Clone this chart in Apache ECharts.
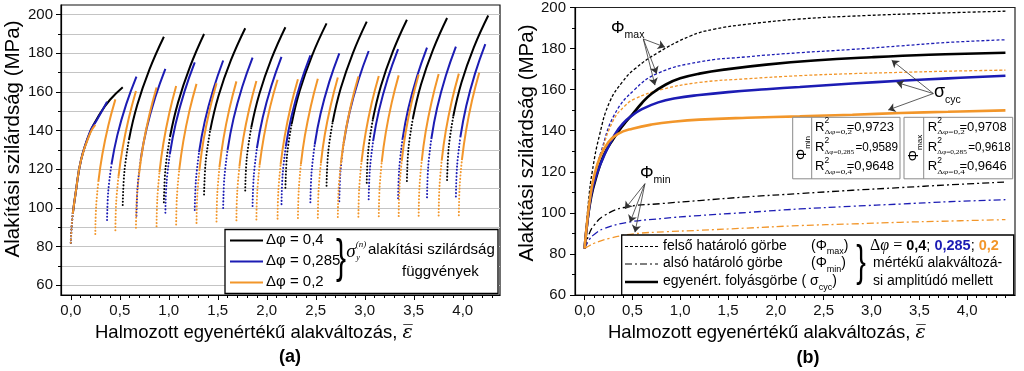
<!DOCTYPE html>
<html>
<head>
<meta charset="utf-8">
<script src="https://cdn.jsdelivr.net/npm/echarts@6.0.0/dist/echarts.min.js"></script>
<style>html,body{margin:0;padding:0;background:#fff;}#chart{width:1024px;height:371px;}</style>
</head>
<body>
<div id="chart"></div>
<script>
// ================= tick labels =================
const xTickValues = [0, 0.5, 1, 1.5, 2, 2.5, 3, 3.5, 4];
const yTickValues = [60, 80, 100, 120, 140, 160, 180, 200];
const yMinorValues = [70, 90, 110, 130, 150, 170, 190];

// ================= panel (a): flow stress curves per half cycle =================
// each curve: [strain, stress] points; the first three points are the sparse (dotted) elastic part
const curvesA_04 = [
  [[0,82],[0.008,90],[0.02,97],[0.05,108],[0.105,125],[0.2,139.5],[0.3,149],[0.4,156],[0.53,162.5]],
  [[0.53,101.5],[0.547,118.9],[0.593,135.2],[0.677,153.1],[0.803,171.7],[0.95,188.6]],
  [[0.95,103],[0.966,120.4],[1.012,136.7],[1.094,154.5],[1.217,173.1],[1.36,190]],
  [[1.36,107],[1.377,124.2],[1.423,140.3],[1.507,157.9],[1.633,176.3],[1.78,193]],
  [[1.78,109],[1.796,125.9],[1.842,141.7],[1.924,159],[2.047,177.1],[2.19,193.5]],
  [[2.19,110.5],[2.207,127.5],[2.253,143.4],[2.337,160.8],[2.463,179],[2.61,195.5]],
  [[2.61,111.5],[2.626,128.5],[2.672,144.4],[2.754,161.8],[2.877,179.9],[3.02,196.4]],
  [[3.02,113],[3.036,129.9],[3.082,145.7],[3.164,163],[3.287,181],[3.43,197.4]],
  [[3.43,114],[3.446,130.9],[3.492,146.6],[3.574,163.9],[3.697,181.9],[3.84,198.3]],
  [[3.84,114.5],[3.857,131.5],[3.903,147.4],[3.987,164.9],[4.113,183.1],[4.26,199.6]]
];
const curvesA_0285 = [
  [[0,82],[0.008,90],[0.02,97],[0.05,108],[0.105,125],[0.2,140],[0.26,145],[0.37,155]],
  [[0.37,93.8],[0.382,108.6],[0.415,122.5],[0.475,137.7],[0.565,153.6],[0.67,168]],
  [[0.67,96],[0.682,111.2],[0.714,125.4],[0.773,141],[0.862,157.3],[0.965,172]],
  [[0.965,97.6],[0.977,113.1],[1.01,127.7],[1.07,143.6],[1.16,160.2],[1.265,175.3]],
  [[1.265,99],[1.277,114.5],[1.309,128.9],[1.367,144.8],[1.454,161.3],[1.555,176.3]],
  [[1.555,100],[1.567,115.6],[1.6,130.1],[1.66,146.1],[1.75,162.7],[1.855,177.8]],
  [[1.855,101],[1.867,116.4],[1.899,130.9],[1.958,146.7],[2.047,163.2],[2.15,178.2]],
  [[2.15,102],[2.162,117.4],[2.194,131.8],[2.253,147.6],[2.342,164.1],[2.445,179]],
  [[2.445,103],[2.457,118.4],[2.489,132.8],[2.548,148.6],[2.637,165.1],[2.74,180]],
  [[2.74,103.5],[2.752,119],[2.785,133.6],[2.845,149.5],[2.935,166.1],[3.04,181.2]],
  [[3.04,104.5],[3.052,120],[3.085,134.6],[3.145,150.5],[3.235,167.1],[3.34,182.2]],
  [[3.34,105],[3.352,120.6],[3.384,135.2],[3.443,151.2],[3.532,167.9],[3.635,183]],
  [[3.635,105.5],[3.647,121.1],[3.679,135.7],[3.738,151.7],[3.827,168.4],[3.93,183.5]],
  [[3.93,106],[3.942,121.8],[3.975,136.5],[4.035,152.6],[4.125,169.5],[4.23,184.8]]
];
const curvesA_02 = [
  [[0,82],[0.008,90],[0.02,97],[0.05,108],[0.105,125],[0.2,139],[0.25,143]],
  [[0.25,86.5],[0.258,100.4],[0.281,113.5],[0.322,127.8],[0.383,142.7],[0.455,156.2]],
  [[0.455,88.5],[0.463,102.9],[0.487,116.4],[0.529,131.1],[0.592,146.5],[0.665,160.5]],
  [[0.665,89.8],[0.673,104.3],[0.697,117.9],[0.739,132.7],[0.802,148.2],[0.875,162.3]],
  [[0.875,90.5],[0.883,105],[0.905,118.6],[0.945,133.5],[1.005,149],[1.075,163.1]],
  [[1.075,91.5],[1.083,106],[1.106,119.6],[1.148,134.5],[1.21,150.1],[1.283,164.2]],
  [[1.283,92.3],[1.291,106.7],[1.314,120.2],[1.354,135],[1.416,150.5],[1.487,164.5]],
  [[1.487,93],[1.495,107.5],[1.517,121.1],[1.558,135.9],[1.619,151.4],[1.69,165.5]],
  [[1.69,93.6],[1.698,108],[1.721,121.5],[1.761,136.3],[1.823,151.7],[1.894,165.7]],
  [[1.894,94],[1.903,108.5],[1.926,122],[1.97,136.8],[2.034,152.3],[2.11,166.3]],
  [[2.11,94.5],[2.118,108.9],[2.141,122.4],[2.183,137.2],[2.245,152.6],[2.318,166.6]],
  [[2.318,94.8],[2.326,109.2],[2.348,122.7],[2.389,137.4],[2.45,152.8],[2.521,166.8]],
  [[2.521,95],[2.529,109.5],[2.552,123.1],[2.592,137.9],[2.654,153.4],[2.725,167.5]],
  [[2.725,95.3],[2.733,109.8],[2.757,123.4],[2.799,138.3],[2.862,153.9],[2.935,168]],
  [[2.935,95.5],[2.943,110.1],[2.966,123.7],[3.008,138.6],[3.07,154.2],[3.143,168.3]],
  [[3.143,95.7],[3.151,110.3],[3.173,123.9],[3.214,138.9],[3.275,154.5],[3.346,168.6]],
  [[3.346,95.8],[3.354,110.4],[3.377,124.1],[3.417,139.1],[3.479,154.8],[3.55,169]],
  [[3.55,96],[3.558,110.7],[3.581,124.4],[3.621,139.4],[3.683,155.1],[3.754,169.3]],
  [[3.754,96.1],[3.762,110.8],[3.785,124.5],[3.826,139.6],[3.888,155.3],[3.96,169.5]],
  [[3.96,96.3],[3.968,111],[3.991,124.8],[4.033,139.9],[4.095,155.7],[4.168,170]]
];

// ================= panel (b): fitted curves =================
const phiMax_04 = [[0,82.6],[0.04,105],[0.08,120],[0.157,138],[0.262,154],[0.4,164],[0.523,170],[0.767,178],[1.1,186],[1.36,189.5],[1.73,192],[2.25,194.4],[2.95,196.1],[3.64,197.2],[4.4,198.2]];
const phiMax_0285 = [[0,82.6],[0.05,103],[0.1,117],[0.174,130],[0.314,148],[0.523,160],[0.767,168],[1.2,173.5],[1.7,176],[2.25,178],[2.77,179.5],[3.3,181.3],[3.8,183],[4.4,184.3]];
const phiMax_02 = [[0,82.6],[0.05,102],[0.1,116],[0.174,129],[0.3,145],[0.42,152],[0.523,155.5],[0.8,160],[1.2,163.5],[1.7,165.3],[2.25,166.8],[2.8,167.8],[3.3,168.4],[3.8,169],[4.4,169.5]];
const phiMin_04 = [[0,82.6],[0.05,90],[0.1,94],[0.2,98.5],[0.42,102.7],[0.8,104.5],[1.2,106],[1.7,107.8],[2.25,109.4],[2.8,111],[3.3,112.3],[3.8,113.6],[4.4,115]];
const phiMin_0285 = [[0,82.6],[0.05,87],[0.1,89.5],[0.2,92.3],[0.45,95.4],[0.8,97.2],[1.2,98.7],[1.7,100.2],[2.25,101.9],[2.8,103.2],[3.3,104.3],[3.8,105.4],[4.4,106.4]];
const phiMin_02 = [[0,82.6],[0.05,84],[0.1,85.2],[0.25,87.5],[0.52,89.8],[0.85,90.8],[1.2,91.5],[1.7,92.6],[2.25,93.8],[2.8,94.6],[3.3,95.4],[3.8,96],[4.4,96.7]];
const sigCyc_04 = [[0,82.6],[0.03,96],[0.07,108],[0.12,117],[0.2,128],[0.3,136],[0.4,142.5],[0.5,148],[0.6,153.5],[0.7,158],[0.85,162.5],[1.0,165.5],[1.2,167.8],[1.5,170],[1.9,172.2],[2.4,174.2],[3.0,175.8],[3.6,177],[4.4,178]];
const sigCyc_0285 = [[0,82.6],[0.03,96],[0.07,109],[0.12,118],[0.21,128.5],[0.314,138],[0.4,143.5],[0.5,147.5],[0.6,150.5],[0.77,153.8],[0.95,155.8],[1.2,157.4],[1.5,158.8],[1.9,160.2],[2.25,161.3],[2.8,163],[3.3,164.3],[3.8,165.5],[4.4,166.8]];
const sigCyc_02 = [[0,82.6],[0.03,97],[0.06,108],[0.1,118],[0.16,127],[0.25,134.5],[0.35,138.5],[0.5,141],[0.7,143],[0.95,144.5],[1.2,145.4],[1.7,146.3],[2.25,147],[2.8,147.8],[3.3,148.6],[3.8,149.2],[4.4,149.9]];

// R² values of the fits
const r2Labels = ['Δφ=0,2', 'Δφ=0,285', 'Δφ=0,4'];
const r2PhiMin = ['=0,9723', '=0,9589', '=0,9648'];
const r2PhiMax = ['=0,9708', '=0,9618', '=0,9646'];

// ================= styling / layout =================
const FONT = 'Liberation Sans, Arial, sans-serif';
const SERIF = 'Liberation Serif, Times New Roman, serif';
const C04 = '#000000', C0285 = '#1c1cb4', C02 = '#f2962a';
const fmt = v => v.toFixed(1).replace('.', ',');

function minorList(from, to, step, skip) {
  const out = [];
  for (let i = Math.round(from / step); i * step <= to + 1e-9; i++) {
    const v = +(i * step).toFixed(3);
    if (!skip.some(s => Math.abs(s - v) < 1e-9)) out.push(v);
  }
  return out;
}
const xMinorA = minorList(0.1, 4.3, 0.1, xTickValues);
const xMinorB = minorList(0.1, 4.4, 0.1, xTickValues);

const chart = echarts.init(document.getElementById('chart'));

const labelStyle = {fontSize: 15, color: '#111', fontFamily: FONT};
function mainX(grid, max) {
  return {type: 'value', gridIndex: grid, position: 'bottom', min: -0.1, max: max,
    axisLine: {show: true, onZero: false, lineStyle: {color: '#000', width: 1.2}},
    axisTick: {show: true, customValues: xTickValues, length: 5, lineStyle: {color: '#000', width: 1}},
    axisLabel: Object.assign({customValues: xTickValues, formatter: fmt, margin: 8}, labelStyle),
    splitLine: {show: false}};
}
function minorX(grid, max, vals) {
  return {type: 'value', gridIndex: grid, position: 'bottom', min: -0.1, max: max,
    axisLine: {show: false, onZero: false}, axisLabel: {show: false}, splitLine: {show: false},
    axisTick: {show: true, customValues: vals, length: 3, lineStyle: {color: '#000', width: 1}}};
}
function mainY(grid, min, max, margin) {
  return {type: 'value', gridIndex: grid, position: 'left', min: min, max: max,
    axisLine: {show: true, onZero: false, lineStyle: {color: '#000', width: 1.2}},
    axisTick: {show: true, customValues: yTickValues, length: 5, lineStyle: {color: '#000', width: 1}},
    axisLabel: Object.assign({customValues: yTickValues, margin: margin}, labelStyle),
    splitLine: {show: false}};
}
function minorY(grid, min, max) {
  return {type: 'value', gridIndex: grid, position: 'left', min: min, max: max,
    axisLine: {show: false, onZero: false}, axisLabel: {show: false}, splitLine: {show: false},
    axisTick: {show: true, customValues: yMinorValues, length: 3, lineStyle: {color: '#000', width: 1}}};
}

const series = [];
function addA(curves, color) {
  curves.forEach(c => {
    series.push({type: 'line', xAxisIndex: 0, yAxisIndex: 0, data: c.slice(0, 3), showSymbol: false, symbol: 'none',
      smooth: 0.4, silent: true, z: 2, emphasis: {disabled: true},
      lineStyle: {color: color, width: 2, type: [0.1, 3.2], cap: 'round'}});
    series.push({type: 'line', xAxisIndex: 0, yAxisIndex: 0, data: c.slice(2), showSymbol: false, symbol: 'none',
      smooth: 0.45, silent: true, z: 3, emphasis: {disabled: true},
      lineStyle: {color: color, width: 2}});
  });
}
addA(curvesA_04, C04);
addA(curvesA_0285, C0285);
addA(curvesA_02, C02);

function addB(data, color, kind) {
  const ls = kind === 'max' ? {type: [3, 2], width: 1.3} : kind === 'min' ? {type: [7, 3, 2, 3], width: 1.3} : {type: 'solid', width: 2.6};
  const s = {type: 'line', xAxisIndex: 2, yAxisIndex: 3, data: data, showSymbol: false, symbol: 'none',
    smooth: 0.45, silent: true, z: kind === 'cyc' ? 4 : 3, emphasis: {disabled: true},
    lineStyle: Object.assign({color: color}, ls)};
  series.push(s);
  return s;
}
addB(phiMax_04, C04, 'max'); addB(phiMax_0285, C0285, 'max'); addB(phiMax_02, C02, 'max');
addB(phiMin_04, C04, 'min'); addB(phiMin_0285, C0285, 'min'); addB(phiMin_02, C02, 'min');
addB(sigCyc_04, C04, 'cyc'); addB(sigCyc_0285, C0285, 'cyc');
const lastB = addB(sigCyc_02, C02, 'cyc');

// annotation arrows (panel b), in data coordinates
const arrowPairs = [
  [[0.614, 184.7], [0.841, 180.7]], [[0.614, 184.7], [0.754, 167.8]], [[0.614, 184.7], [0.736, 162.2]],
  [[0.631, 114.2], [0.422, 101.9]], [[0.631, 114.2], [0.475, 95.4]], [[0.631, 114.2], [0.527, 90.6]],
  [[3.646, 158.1], [3.211, 174.3]], [[3.646, 158.1], [3.263, 163.5]], [[3.646, 158.1], [3.175, 150.1]]
];
lastB.markLine = {silent: true, animation: false, symbol: ['none', 'arrow'], symbolSize: 7, precision: 3,
  label: {show: false}, emphasis: {disabled: true},
  lineStyle: {color: '#333', width: 0.8, type: 'solid'},
  data: arrowPairs.map(p => [{coord: p[0]}, {coord: p[1]}])};

// ================= graphic annotations =================
const G = [];
function T(x, y, text, o) {
  o = o || {};
  const st = {text: text, fill: o.color || '#000', fontSize: o.size || 14, fontFamily: o.family || FONT,
    fontStyle: o.fstyle || 'normal', fontWeight: o.weight || 'normal',
    align: o.align || 'left', verticalAlign: o.valign || 'middle',
    textAlign: o.align || 'left', textVerticalAlign: o.valign || 'middle'};
  if (o.rich) st.rich = o.rich;
  G.push({type: 'text', x: x, y: y, z: 110, silent: true, rotation: o.rotation || 0,
    scaleX: o.scaleX || 1, scaleY: o.scaleY || 1, style: st});
}
function R(x, y, w, h, stroke, lw) {
  G.push({type: 'rect', z: 100, silent: true, shape: {x: x, y: y, width: w, height: h},
    style: {fill: '#fff', stroke: stroke, lineWidth: lw}});
}
function L(x1, y1, x2, y2, color, lw, dash) {
  G.push({type: 'line', z: 110, silent: true, shape: {x1: x1, y1: y1, x2: x2, y2: y2},
    style: {stroke: color, lineWidth: lw, lineDash: dash || null}});
}
function subRich(mainSize, subSize, drop, mainFamily, subFamily) {
  return {
    p: {fontSize: mainSize, fontFamily: mainFamily || FONT, lineHeight: mainSize + 2 * drop, verticalAlign: 'middle', fill: '#000'},
    s: {fontSize: subSize, fontFamily: subFamily || FONT, lineHeight: subSize, verticalAlign: 'bottom', fill: '#000'}
  };
}

// axis titles and panel labels
const xNameRich = {n: {fontSize: 18.5, fontFamily: FONT, fill: '#000'}, e: {fontSize: 19, fontFamily: 'DejaVu Serif', fontStyle: 'italic', fill: '#000'}};
T(95, 333, '{n|Halmozott egyenértékű alakváltozás, }{e|ε\u0305}', {rich: xNameRich});
T(608, 333, '{n|Halmozott egyenértékű alakváltozás, }{e|ε\u0305}', {rich: xNameRich});
T(13, 139, 'Alakítási szilárdság (MPa)', {size: 20.5, align: 'center', rotation: Math.PI / 2});
T(527, 143, 'Alakítási szilárdság (MPa)', {size: 20.5, align: 'center', rotation: Math.PI / 2});
T(290, 357, '(a)', {size: 18, weight: 'bold', align: 'center'});
T(808, 358, '(b)', {size: 18, weight: 'bold', align: 'center'});

// panel (a) legend
R(225, 229.5, 273, 64, '#000', 1.3);
L(230, 240.5, 263, 240.5, C04, 2);
L(230, 261.5, 263, 261.5, C0285, 2);
L(230, 282.5, 263, 282.5, C02, 2);
T(266, 240, 'Δφ = 0,4', {size: 15});
T(266, 261, 'Δφ = 0,285', {size: 15});
T(266, 282, 'Δφ = 0,2', {size: 15});
T(341, 259, '}', {size: 46, align: 'center', scaleX: 0.65});
T(351, 252, 'σ', {size: 19, family: SERIF, fstyle: 'italic', align: 'center'});
T(361, 245, '(n)', {size: 9, family: SERIF, fstyle: 'italic', align: 'center'});
T(358, 257.5, 'y', {size: 8, family: SERIF, fstyle: 'italic', align: 'center'});
T(368, 250, 'alakítási szilárdság', {size: 15});
T(402, 272, 'függvények', {size: 15});

// panel (b) annotations
T(611, 28, '{p|Φ}{s|max}', {rich: subRich(17, 10.5, 4.5)});
T(640, 173, '{p|Φ}{s|min}', {rich: subRich(17, 10.5, 4.5)});
T(934, 92, '{p|σ}{s|cyc}', {rich: subRich(18, 10.5, 4.5)});

// R² boxes
const boxL = [792.7, 904], boxDiv = [811.7, 923.7], boxR = [900, 1012.7];
const rowY = [127, 147, 166.7];
const rX = [815, 927.7];
[r2PhiMin, r2PhiMax].forEach((vals, b) => {
  R(boxL[b], 117.3, boxR[b] - boxL[b], 61.5, '#8a8a8a', 1);
  L(boxDiv[b], 117.3, boxDiv[b], 178.8, '#8a8a8a', 1);
  T((boxL[b] + boxDiv[b]) / 2, 148, b === 0 ? '{p|Φ}{s|min}' : '{p|Φ}{s|max}',
    {rich: subRich(14, 8, 3), align: 'center', rotation: Math.PI / 2});
  vals.forEach((v, i) => {
    const y = rowY[i];
    const long = i === 1;
    T(rX[b], y, 'R', {size: 13});
    T(rX[b] + 9.5, y - 6, '2', {size: 8.5});
    T(rX[b] + 9.5, y + 5.5, r2Labels[i], {size: 7, family: SERIF, scaleX: long ? 1.05 : 1.3});
    T(rX[b] + (long ? 40.5 : 31.7), y, v, {size: 13, scaleX: long ? 0.9 : 1});
  });
});

// panel (b) legend
R(621.7, 235, 392, 60, '#000', 1.3);
L(625, 246.5, 658, 246.5, '#000', 1.2, [3, 2]);
L(625, 264, 658, 264, '#000', 1.2, [7, 3, 2, 3]);
L(625, 282, 658, 282, '#000', 2.4);
T(663, 246, 'felső határoló görbe', {size: 14});
T(663, 263.5, 'alsó határoló görbe', {size: 14});
T(811, 246, '{p|(Φ}{s|max}{p|)}', {rich: subRich(14, 9, 3.5)});
T(811, 263.5, '{p|(Φ}{s|min}{p|)}', {rich: subRich(14, 9, 3.5)});
T(663, 281.5, '{p|egyenért. folyásgörbe ( σ}{s|cyc}{p|)}', {rich: subRich(14, 9, 3.5)});
T(861, 264, '}', {size: 44, align: 'center', scaleX: 0.65});
T(870, 246, '{g|Δ}{gi|φ}{e| = }{b|0,4}{n|; }{bb|0,285}{n|; }{bo|0,2}', {rich: {
  g: {fontSize: 16, fontFamily: SERIF, fill: '#000'},
  gi: {fontSize: 16, fontFamily: SERIF, fontStyle: 'italic', fill: '#000'},
  e: {fontSize: 16, fontFamily: SERIF, fill: '#000'},
  b: {fontSize: 14.5, fontFamily: FONT, fontWeight: 'bold', fill: C04},
  bb: {fontSize: 14.5, fontFamily: FONT, fontWeight: 'bold', fill: C0285},
  bo: {fontSize: 14.5, fontFamily: FONT, fontWeight: 'bold', fill: C02},
  n: {fontSize: 14.5, fontFamily: FONT, fill: '#000'}
}});
T(873, 263.5, 'mértékű alakváltozá-', {size: 14});
T(873, 281.5, 'si amplitúdó mellett', {size: 14});

const option = {
  animation: false,
  backgroundColor: '#fff',
  textStyle: {fontFamily: FONT},
  grid: [
    {left: 61, top: 5, width: 439, height: 290, show: true, borderColor: '#111', borderWidth: 1.2, backgroundColor: 'transparent'},
    {left: 575, top: 5, width: 440, height: 290, show: true, borderColor: '#222', borderWidth: 1.2, backgroundColor: 'transparent'}
  ],
  xAxis: [mainX(0, 4.38), minorX(0, 4.38, xMinorA), mainX(1, 4.5), minorX(1, 4.5, xMinorB)],
  yAxis: [
    mainY(0, 55, 205, 8),
    minorY(0, 55, 205),
    {type: 'value', gridIndex: 0, position: 'left', min: 55, max: 205, interval: 5,
      axisLine: {show: false}, axisTick: {show: false}, axisLabel: {show: false},
      splitLine: {show: true, lineStyle: {color: ['rgba(0,0,0,0)', '#c4c4c4'], width: 1}}},
    mainY(1, 60, 200, 9),
    minorY(1, 60, 200)
  ],
  series: series,
  graphic: {elements: G}
};
chart.setOption(option);
</script>
</body>
</html>
